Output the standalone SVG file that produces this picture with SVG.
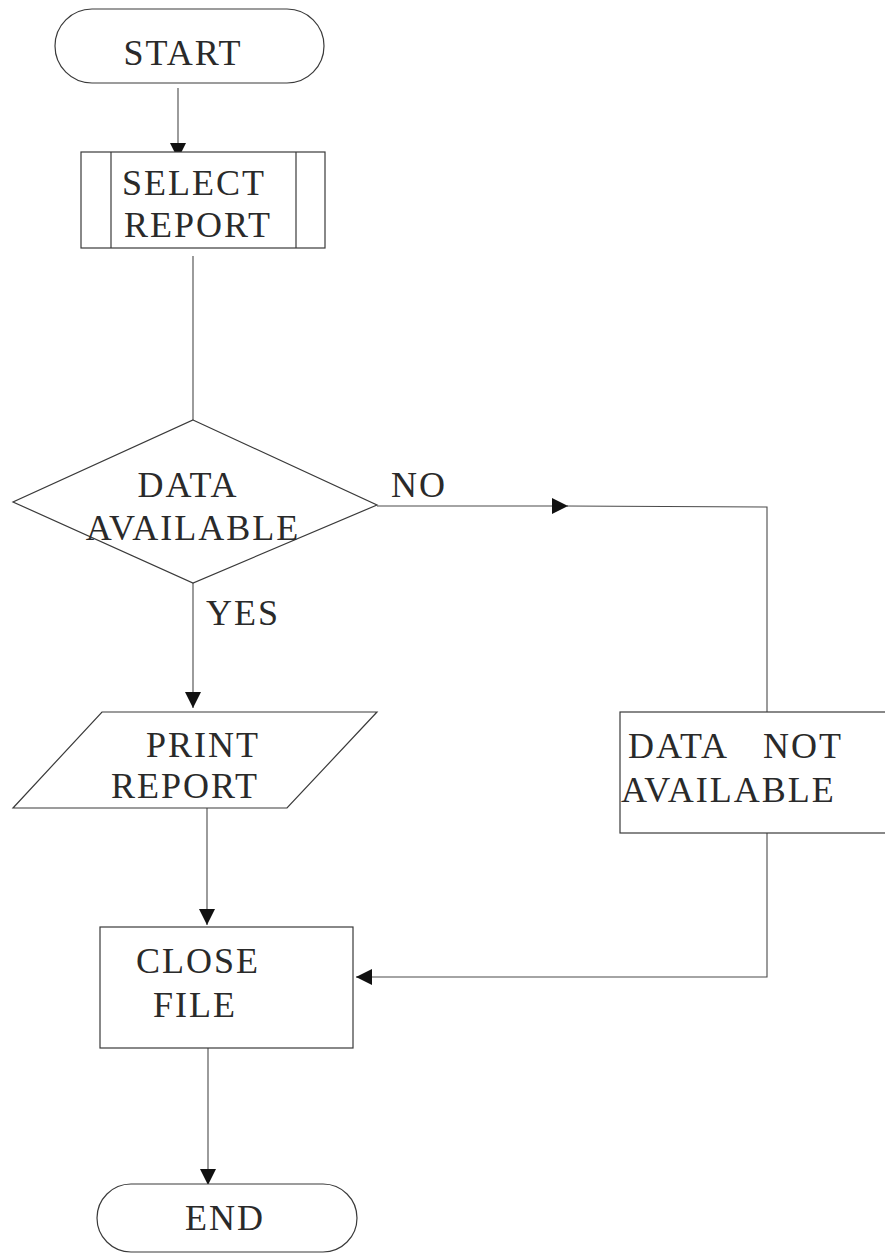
<svg xmlns="http://www.w3.org/2000/svg" width="885" height="1256" viewBox="0 0 885 1256">
  <style>
    .shape { fill: #ffffff; stroke: #3a3a3a; stroke-width: 1.2; }
    .wire { fill: none; stroke: #4a4a4a; stroke-width: 1.1; }
    .label { font-family: "Liberation Serif", "Times New Roman", serif; font-size: 36px; letter-spacing: 2px; fill: #2a2a2a; text-anchor: middle; }
    .left { text-anchor: start; }
  </style>
  <defs>
    <marker id="arrow" viewBox="0 0 16 16" refX="16" refY="8" markerWidth="16" markerHeight="16" markerUnits="userSpaceOnUse" orient="auto">
      <path d="M0,0 L16,8 L0,16 Z" fill="#111"/>
    </marker>
  </defs>

  <rect width="885" height="1256" fill="#ffffff"/>

  <!-- connectors -->
  <g id="connectors">
    <line class="wire" x1="178" y1="88" x2="178" y2="159" marker-end="url(#arrow)"/>
    <line class="wire" x1="193" y1="256" x2="193" y2="420"/>
    <line class="wire" x1="193" y1="583" x2="193" y2="708" marker-end="url(#arrow)"/>
    <line class="wire" x1="377" y1="506" x2="568" y2="506" marker-end="url(#arrow)"/>
    <polyline class="wire" points="566,506 767,507 767,712"/>
    <line class="wire" x1="207" y1="808" x2="207" y2="925" marker-end="url(#arrow)"/>
    <polyline class="wire" points="767,833 767,977 357,977"/>
    <line class="wire" x1="372" y1="977" x2="356" y2="977" marker-end="url(#arrow)"/>
    <line class="wire" x1="208" y1="1048" x2="208" y2="1185" marker-end="url(#arrow)"/>
  </g>

  <g id="start">
    <rect class="shape" x="55" y="9" width="269" height="74" rx="37" ry="37"/>
    <text class="label" x="183" y="65">START</text>
  </g>

  <g id="select-report">
    <rect class="shape" x="81" y="152" width="244" height="96"/>
    <line class="shape" x1="111" y1="152" x2="111" y2="248"/>
    <line class="shape" x1="296" y1="152" x2="296" y2="248"/>
    <text class="label" x="194" y="195">SELECT</text>
    <text class="label" x="198" y="237">REPORT</text>
  </g>

  <g id="data-available">
    <polygon class="shape" points="193,420 377,505 193,583 13,502"/>
    <text class="label" x="188" y="497">DATA</text>
    <text class="label" x="193" y="540">AVAILABLE</text>
  </g>

  <g id="branch-labels">
    <text class="label" x="419" y="497">NO</text>
    <text class="label" x="243" y="625">YES</text>
  </g>

  <g id="print-report">
    <polygon class="shape" points="102,712 377,712 287,808 13,808"/>
    <text class="label" x="203" y="757">PRINT</text>
    <text class="label" x="185" y="798">REPORT</text>
  </g>

  <g id="data-not-available">
    <rect class="shape" x="620" y="712" width="275" height="121"/>
    <text class="label left" x="628" y="758">DATA<tspan x="763">NOT</tspan></text>
    <text class="label left" x="621" y="802">AVAILABLE</text>
  </g>

  <g id="close-file">
    <rect class="shape" x="100" y="927" width="253" height="121"/>
    <text class="label" x="198" y="973">CLOSE</text>
    <text class="label" x="195" y="1017">FILE</text>
  </g>

  <g id="end">
    <rect class="shape" x="97" y="1184" width="260" height="68" rx="34" ry="34"/>
    <text class="label" x="225" y="1230">END</text>
  </g>
</svg>
